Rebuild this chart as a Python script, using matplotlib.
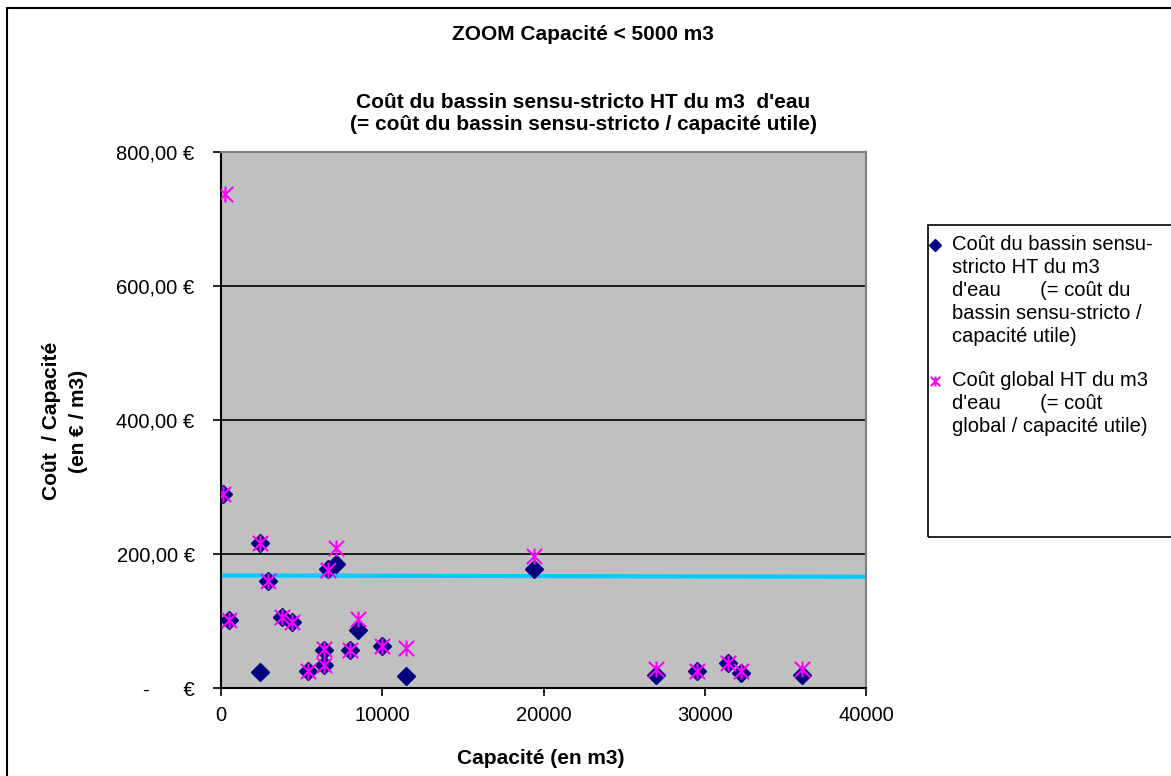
import matplotlib
matplotlib.use("Agg")
import matplotlib.pyplot as plt
import numpy as np
from matplotlib.path import Path
from matplotlib.patches import Rectangle
from matplotlib.lines import Line2D
from matplotlib.ticker import FuncFormatter

plt.rcParams['font.family'] = ['Liberation Sans', 'DejaVu Sans']

# ---- data ----
capacite = [230, 100, 2430, 2430, 2930, 470, 3770, 4390, 5380, 6390, 6390, 6660,
            7130, 8020, 8520, 10000, 11500, 19400, 27000, 29500, 31450, 32230, 36050]
cout_bassin = [np.nan, 289, 217, 24, 159, 102, 106, 98, 26, 56, 35, 178,
               185, 57, 86, 62, 18, 177, 19, 25, 38, 23, 19]
cout_global = [737, 289, 217, np.nan, 159, 102, 106, 98, 26, 58, 35, 176,
               209, 57, 103, 62, 59, 197, 29, 25, 38, 26, 29]
trend_x = [0, 40000]
trend_y = [168, 166]

x_ticks = [0, 10000, 20000, 30000, 40000]
y_ticks = [0, 200, 400, 600, 800]

label_bassin = ["Coût du bassin sensu-", "stricto HT du m3", "d'eau       (= coût du",
                "bassin sensu-stricto /", "capacité utile)"]
label_global = ["Coût global HT du m3", "d'eau       (= coût", "global / capacité utile)"]

W, H = 1171, 776
fig = plt.figure(figsize=(W / 100, H / 100), dpi=100)
fig.patch.set_facecolor('white')

FS = 14.5
FSB = 15

# outer chart border
fig.add_artist(Rectangle((7 / W, -0.01), 1.05, 1 - 8 / H + 0.01, transform=fig.transFigure,
                         fill=False, edgecolor='black', linewidth=1.5))

left, right, top, bottom = 221, 866, 152, 688
ax = fig.add_axes([left / W, 1 - bottom / H, (right - left) / W, (bottom - top) / H])
ax.set_facecolor('#C0C0C0')
ax.set_xlim(0, 40000)
ax.set_ylim(0, 800)

for yv in y_ticks[1:]:
    ax.axhline(yv, color='black', linewidth=1.2, zorder=1)

ax.plot(trend_x, trend_y, color='#00CCFF', linewidth=3, zorder=2, solid_capstyle='butt')

star = Path([(-1, -1), (1, 1), (-1, 1), (1, -1), (0, -1.05), (0, 1.05)],
            [Path.MOVETO, Path.LINETO, Path.MOVETO, Path.LINETO, Path.MOVETO, Path.LINETO])

ax.plot(capacite, cout_bassin, linestyle='none', marker='D', markersize=9,
        color='#000080', zorder=3)
ax.plot(capacite, cout_global, linestyle='none', marker=star, markersize=11.5,
        markeredgecolor='#FF00FF', markerfacecolor='none', markeredgewidth=1.5, zorder=4)

ax.set_xticks(x_ticks)
ax.set_yticks(y_ticks)
ax.xaxis.set_major_formatter(FuncFormatter(lambda v, p: f"{int(v)}"))
ax.yaxis.set_major_formatter(FuncFormatter(
    lambda v, p: "-      €" if v == 0 else f"{int(v)},00 €"))
ax.tick_params(axis='both', labelsize=FS, direction='out', length=6, width=1.2, color='black')
ax.tick_params(axis='y', pad=13)
ax.tick_params(axis='x', pad=7)

for s in ['left', 'bottom']:
    ax.spines[s].set_color('black')
    ax.spines[s].set_linewidth(1.5)
for s in ['top', 'right']:
    ax.spines[s].set_color('#808080')
    ax.spines[s].set_linewidth(1.5)

fig.text(541 / W, 1 - 758 / H, "Capacité (en m3)", ha='center', va='center',
         fontsize=FSB, fontweight='bold')
fig.text(52 / W, 1 - 421 / H, "Coût  / Capacité", ha='center', va='center',
         rotation=90, fontsize=FSB, fontweight='bold')
fig.text(79 / W, 1 - 421 / H, "(en € / m3)", ha='center', va='center',
         rotation=90, fontsize=FSB, fontweight='bold')

fig.text(583 / W, 1 - 35 / H, "ZOOM Capacité < 5000 m3", ha='center', va='center',
         fontsize=FSB, fontweight='bold')
fig.text(583 / W, 1 - 103 / H, "Coût du bassin sensu-stricto HT du m3  d'eau",
         ha='center', va='center', fontsize=FSB, fontweight='bold')
fig.text(583 / W, 1 - 125 / H, "(= coût du bassin sensu-stricto / capacité utile)",
         ha='center', va='center', fontsize=FSB, fontweight='bold')

# legend box (manual)
fig.add_artist(Rectangle((928 / W, 1 - 537 / H), 0.5, (537 - 225) / H,
                         transform=fig.transFigure, fill=False, edgecolor='black',
                         linewidth=1.2))
line_h = 22.8
y0 = 245
for i, t in enumerate(label_bassin):
    fig.text(952 / W, 1 - (y0 + i * line_h) / H, t, ha='left', va='center', fontsize=FS)
fig.add_artist(Line2D([935 / W], [1 - y0 / H], transform=fig.transFigure, linestyle='none',
                      marker='D', markersize=6.5, color='#000080'))
y1 = 381
for i, t in enumerate(label_global):
    fig.text(952 / W, 1 - (y1 + i * line_h) / H, t, ha='left', va='center', fontsize=FS)
fig.add_artist(Line2D([935 / W], [1 - y1 / H], transform=fig.transFigure, linestyle='none',
                      marker=star, markersize=7, markeredgecolor='#FF00FF',
                      markerfacecolor='none', markeredgewidth=1.5))

fig.savefig("out.png", dpi=100)
